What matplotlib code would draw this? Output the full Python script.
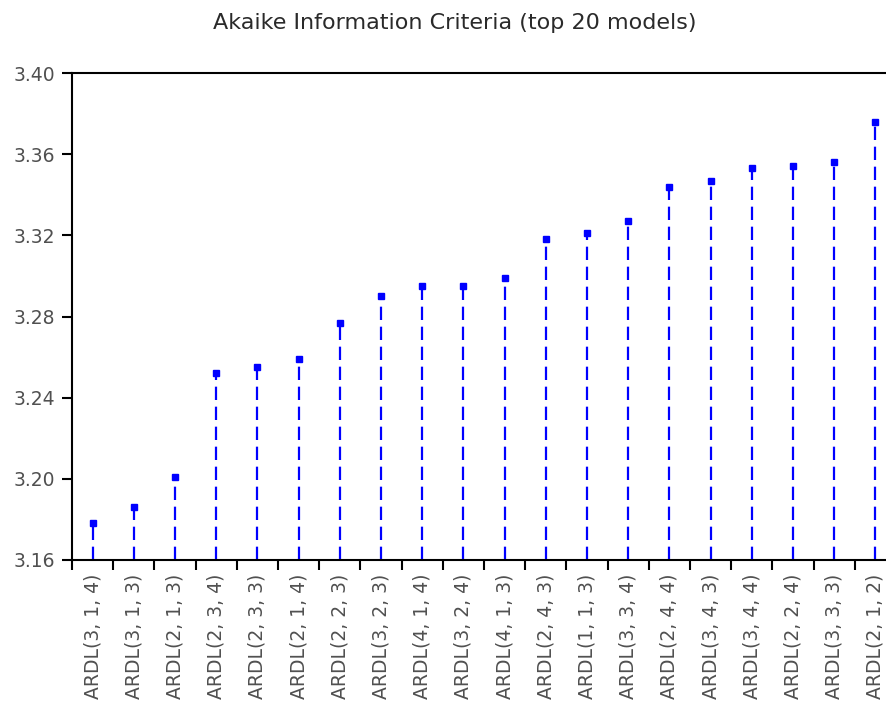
import numpy as np
import matplotlib
matplotlib.use("Agg")
import matplotlib.pyplot as plt

# ── Data ─────────────────────────────────────────────────────────────
models = [
    "ARDL(3, 1, 4)", "ARDL(3, 1, 3)", "ARDL(2, 1, 3)", "ARDL(2, 3, 4)",
    "ARDL(2, 3, 3)", "ARDL(2, 1, 4)", "ARDL(2, 2, 3)", "ARDL(3, 2, 3)",
    "ARDL(4, 1, 4)", "ARDL(3, 2, 4)", "ARDL(4, 1, 3)", "ARDL(2, 4, 3)",
    "ARDL(1, 1, 3)", "ARDL(3, 3, 4)", "ARDL(2, 4, 4)", "ARDL(3, 4, 3)",
    "ARDL(3, 4, 4)", "ARDL(2, 2, 4)", "ARDL(3, 3, 3)", "ARDL(2, 1, 2)",
]
aic = [
    3.178, 3.186, 3.201, 3.252, 3.255, 3.259, 3.277, 3.290, 3.295, 3.295,
    3.299, 3.318, 3.321, 3.327, 3.344, 3.347, 3.353, 3.354, 3.356, 3.376,
]
y_ticks = [3.16, 3.20, 3.24, 3.28, 3.32, 3.36, 3.40]

plt.rcParams["font.family"] = ["DejaVu Sans"]

fig = plt.figure(figsize=(8.86, 7.15), dpi=100)
ax = fig.add_axes([0.0813, 0.2168, 0.930, 0.681])

x = np.arange(len(models))
base = y_ticks[0]
ax.vlines(x, base, aic, colors="#0000ff", linestyles=(0, (6, 3)), linewidth=1.6)
ax.plot(x, aic, "s", color="#0000ff", markersize=4)

ax.set_xlim(-0.5, len(models) - 0.5)
ax.set_ylim(y_ticks[0], y_ticks[-1])

ax.set_yticks(y_ticks)
ax.set_yticklabels([f"{v:.2f}" for v in y_ticks])

# boundary ticks (major) and centred labels (minor)
ax.set_xticks(np.arange(len(models) + 1) - 0.5)
ax.set_xticklabels([])
ax.set_xticks(x, minor=True)
ax.set_xticklabels(models, minor=True, rotation=90, va="top")

ax.tick_params(axis="both", which="major", direction="out", length=7,
               width=1.5, labelsize=13.5, labelcolor="#505050", pad=5)
ax.tick_params(axis="x", which="minor", length=0, pad=10,
               labelsize=13.5, labelcolor="#505050")

for side in ["left", "bottom", "top", "right"]:
    ax.spines[side].set_linewidth(1.5)

fig.text(0.513, 0.968, "Akaike Information Criteria (top 20 models)",
         ha="center", va="center", fontsize=16, color="#2a2a2a")

fig.savefig("out.png", dpi=100)
